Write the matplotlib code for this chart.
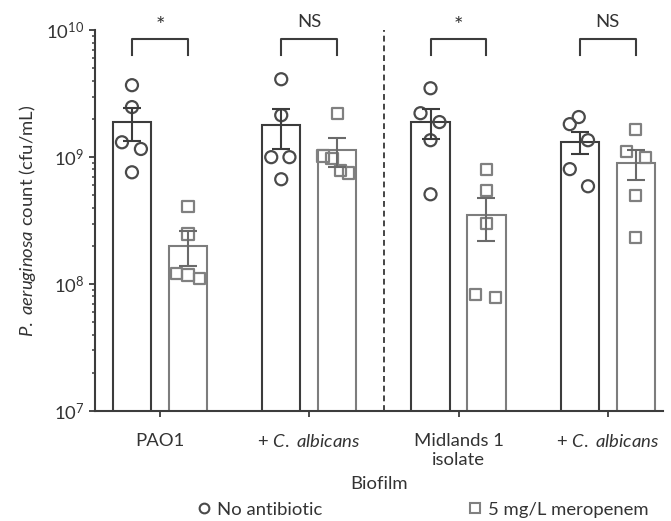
import numpy as np
import matplotlib
matplotlib.use('Agg')
from matplotlib import pyplot as plt
from matplotlib.lines import Line2D

plt.rcParams['font.family'] = ['Lato', 'DejaVu Sans']
plt.rcParams['mathtext.fontset'] = 'custom'
plt.rcParams['mathtext.rm'] = 'Lato'
plt.rcParams['mathtext.it'] = 'Lato:italic'
plt.rcParams['font.size'] = 13.3

# groups on the x axis
groups = ['PAO1', r'+ $\it{C.\ albicans}$', 'Midlands 1\nisolate', r'+ $\it{C.\ albicans}$']
signif = ['*', 'NS', '*', 'NS']

# bar heights (mean) and SEM
mean_none = [1.88e9, 1.78e9, 1.88e9, 1.32e9]
sem_none = [0.54e9, 0.63e9, 0.50e9, 0.27e9]
mean_mero = [2.0e8, 1.13e9, 3.5e8, 0.9e9]
sem_mero = [0.61e8, 0.29e9, 1.3e8, 0.24e9]

# individual replicates
pts_none = [
    [3.69e9, 2.48e9, 1.31e9, 1.16e9, 7.6e8],
    [4.11e9, 2.14e9, 1.0e9, 1.0e9, 6.7e8],
    [3.49e9, 2.22e9, 1.89e9, 1.36e9, 5.1e8],
    [1.82e9, 2.07e9, 1.36e9, 8.05e8, 5.9e8],
]
pts_mero = [
    [4.1e8, 2.48e8, 1.22e8, 1.18e8, 1.11e8],
    [2.22e9, 1.02e9, 9.8e8, 7.9e8, 7.5e8],
    [8.05e8, 5.5e8, 3.02e8, 8.3e7, 7.8e7],
    [1.66e9, 1.11e9, 1.0e9, 5.0e8, 2.34e8],
]
# horizontal scatter of the replicates inside each bar
jit_none = [
    [0, 0, -0.067, 0.06, 0],
    [0, 0, -0.067, 0.055, 0],
    [0, -0.067, 0.06, 0, 0],
    [-0.067, -0.007, 0.055, -0.067, 0.055],
]
jit_mero = [
    [0, 0, -0.075, 0, 0.075],
    [0, -0.095, -0.035, 0.02, 0.075],
    [0, 0, 0, -0.075, 0.06],
    [0, -0.06, 0.067, 0, 0],
]

dark = '#3c3c3c'
grey = '#7d7d7d'
w = 0.255
off = 0.1875
x = np.arange(len(groups))

fig = plt.figure(figsize=(6.71, 5.21), dpi=100)
ax = fig.add_axes([0.1416, 0.211, 0.8465, 0.731])

ax.bar(x - off, mean_none, width=w, color='white', edgecolor=dark, linewidth=1.5, zorder=1)
ax.bar(x + off, mean_mero, width=w, color='white', edgecolor=grey, linewidth=1.5, zorder=1)

for i in range(len(groups)):
    ax.scatter(x[i] - off + np.array(jit_none[i]), pts_none[i], marker='o', s=75,
               facecolor='none', edgecolor='#4a4a4a', linewidth=1.6, zorder=3)
    ax.scatter(x[i] + off + np.array(jit_mero[i]), pts_mero[i], marker='s', s=65,
               facecolor='none', edgecolor='#808080', linewidth=1.6, zorder=3)

ax.errorbar(x - off, mean_none, yerr=sem_none, fmt='none', ecolor=dark, elinewidth=1.5,
            capsize=6.5, capthick=1.5, zorder=4)
ax.errorbar(x + off, mean_mero, yerr=sem_mero, fmt='none', ecolor='#6a6a6a', elinewidth=1.5,
            capsize=6.5, capthick=1.5, zorder=4)

# significance brackets
for i in range(len(groups)):
    ax.plot([x[i] - off, x[i] - off, x[i] + off, x[i] + off], [6.4e9, 8.6e9, 8.6e9, 6.4e9],
            color=dark, linewidth=1.5, clip_on=False)
    star = signif[i] == '*'
    ax.text(x[i], 1.08e10 if star else 1.16e10, signif[i], ha='center', va='center',
            fontsize=16 if star else 13.3, color='#333333', clip_on=False)

ax.axvline(1.5, color='#444444', linestyle=(0, (3, 2)), linewidth=1.4)

ax.set_yscale('log')
ax.set_ylim(1e7, 1e10)
ax.set_xlim(-0.435, 3.37)
ax.set_yticks([1e7, 1e8, 1e9, 1e10])
ax.set_yticklabels([r'10$^{7}$', r'10$^{8}$', r'10$^{9}$', r'10$^{10}$'])
ax.set_xticks(x)
ax.set_xticklabels(groups)
ax.tick_params(axis='both', which='major', direction='out', length=4, width=1.3, colors=dark,
               labelcolor='#333333')
ax.tick_params(axis='x', pad=12)
ax.tick_params(axis='y', which='minor', direction='out', length=2.5, width=1.1, colors=dark)
ax.spines['top'].set_visible(False)
ax.spines['right'].set_visible(False)
for s in ['left', 'bottom']:
    ax.spines[s].set_color(dark)
    ax.spines[s].set_linewidth(1.5)

ax.set_xlabel('Biofilm', color='#333333', labelpad=6)
ax.set_ylabel(r'$\it{P.\ aeruginosa}$ count (cfu/mL)', color='#333333', labelpad=6)

handles = [Line2D([], [], marker='o', linestyle='none', markerfacecolor='none',
                  markeredgecolor='#4a4a4a', markeredgewidth=1.5, markersize=7),
           Line2D([], [], marker='s', linestyle='none', markerfacecolor='none',
                  markeredgecolor='#808080', markeredgewidth=1.5, markersize=7)]
fig.legend(handles, ['No antibiotic', '5 mg/L meropenem'], loc='center',
           bbox_to_anchor=(0.628, 0.022), ncol=2, frameon=False, columnspacing=7.75,
           handletextpad=0.2, handlelength=1.0, labelcolor='#333333')

fig.savefig('out.png', dpi=100)
